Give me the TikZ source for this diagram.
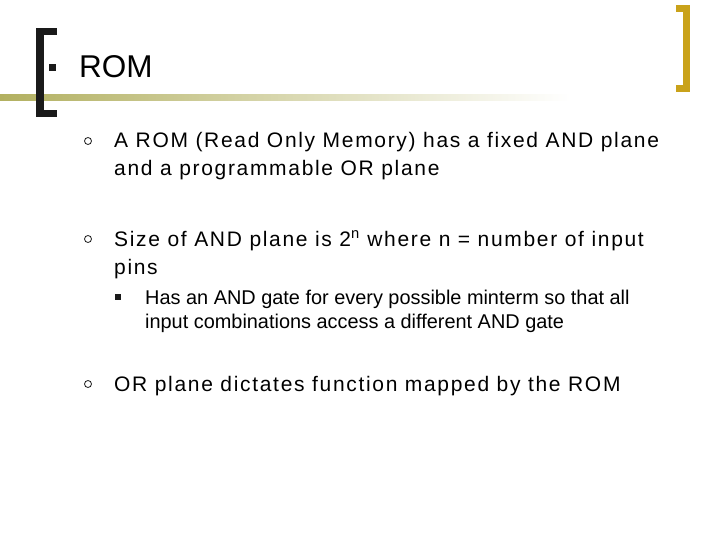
\documentclass[tikz,border=0pt]{standalone}
\usepackage{fontspec}
\setmainfont{Liberation Sans}
\newfontfamily\spaced[LetterSpace=8]{Liberation Sans}
\definecolor{gold}{HTML}{C9A21A}
\definecolor{olive}{HTML}{B2B060}
\definecolor{bk}{HTML}{1A1A1A}
\begin{document}
\begin{tikzpicture}[x=1pt,y=-1pt,
  body/.style={anchor=base west,font=\spaced\fontsize{21}{28}\selectfont,inner sep=0},
  sub/.style={anchor=base west,font=\fontsize{19.9}{24}\selectfont,inner sep=0},
  ring/.style={draw=bk,line width=0.8pt,circle,minimum size=7pt,inner sep=0}]
\useasboundingbox (0,0) rectangle (720,540);
% gradient rule
\shade[left color=olive,right color=white] (0,95) rectangle (570,101);
% left bracket
\fill[bk] (36,28) rectangle (44,117);
\fill[bk] (36,28) rectangle (57,35);
\fill[bk] (36,110) rectangle (57,117);
% right bracket
\fill[gold] (683,5) rectangle (690,92);
\fill[gold] (676,5) rectangle (690,12);
\fill[gold] (676,85) rectangle (690,92);
% title
\fill[bk] (49,64) rectangle (56,71);
\node[anchor=base west,inner sep=0,font=\fontsize{31.5}{36}\selectfont] (title) at (79,78) {ROM};
% bullets
\node[ring] (b1) at (88,141) {};
\node[body] (t1a) at (114,148) {A ROM (Read Only Memory) has a fixed AND plane};
\node[body] (t1b) at (114,176) {and a programmable OR plane};
\node[ring] (b2) at (88,239) {};
\node[body] (t2a) at (114,246) {Size of AND plane is 2\textsuperscript{n} where n = number of input};
\node[body] (t2b) at (114,274) {pins};
\fill[bk] (115,294) rectangle (121,300);
\node[sub] (t3a) at (145,304) {Has an AND gate for every possible minterm so that all};
\node[sub] (t3b) at (145,328) {input combinations access a different AND gate};
\node[ring] (b3) at (88,384) {};
\node[body] (t4) at (114,391) {OR plane dictates function mapped by the ROM};
\end{tikzpicture}
\end{document}
